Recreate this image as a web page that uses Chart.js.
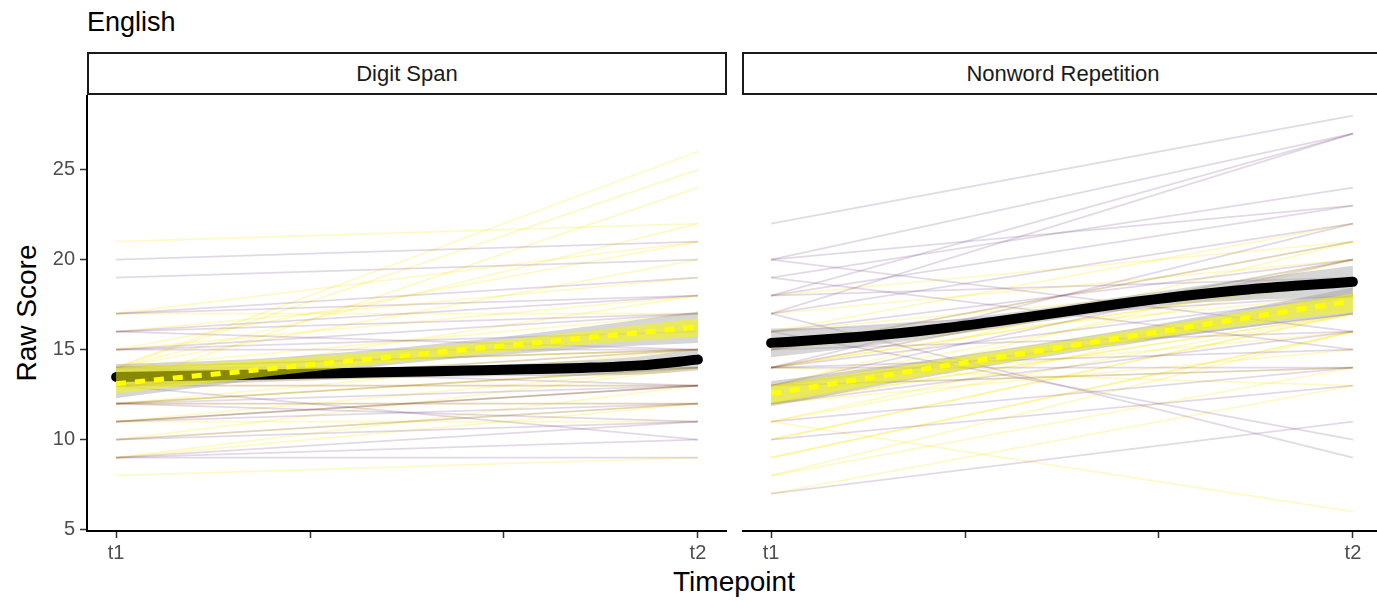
<!DOCTYPE html>
<html><head><meta charset="utf-8">
<script src="https://cdn.jsdelivr.net/npm/chart.js@4.4.1/dist/chart.umd.min.js"></script>
<style>
html,body{margin:0;padding:0;background:#fff;overflow:hidden;width:1377px;height:600px;}
body{position:relative;font-family:"Liberation Sans",Arial,sans-serif;}
.txt{position:absolute;white-space:nowrap;color:#000;}
#title{left:87px;top:8.9px;font-size:27px;line-height:27px;}
.strip{position:absolute;top:52px;height:43px;box-sizing:border-box;border:2px solid #1a1a1a;display:flex;align-items:center;justify-content:center;font-size:22px;line-height:22px;color:#1a1a1a;background:#fff;white-space:nowrap;}
#ytitle{left:-123px;top:298.6px;width:300px;height:28px;font-size:28px;line-height:28px;text-align:center;transform:rotate(-90deg);}
#xtitle{left:434px;top:568.3px;width:600px;font-size:28px;line-height:28px;text-align:center;}
.cv{position:absolute;top:95px;}
</style></head>
<body>
<div id="title" class="txt">English</div>
<div class="strip" style="left:87px;width:640px;">Digit Span</div>
<div class="strip" style="left:742px;width:642px;">Nonword Repetition</div>
<div id="ytitle" class="txt">Raw Score</div>
<div id="xtitle" class="txt">Timepoint</div>
<canvas id="c1" class="cv" width="727" height="505" style="left:0px;"></canvas>
<canvas id="c2" class="cv" width="640" height="505" style="left:742px;"></canvas>
<script>
// ---- axis ticks ----
const xTickVals = [0, 1/3, 2/3, 1];
const xTickLabels = ['t1', '', '', 't2'];
const yTickVals = [5, 10, 15, 20, 25];

// ---- Digit Span: individual trajectories ----
const dsPurpleT1 = [20,19,17,17,16,16,16,15,15,15,14,14,13,13,12,11,11,12,12,10,10,13,9,9,9,14,13,12,11];
const dsPurpleT2 = [21,20,18,19,18,17,15,17,16,15,15,14,15,14,13,13,13,12,11,12,11,10,11,10,9,13,13,14,12];
const dsYellowT1 = [21,14,14,13,14,15,17,16,14,15,13,14,17,13,12,14,12,11,13,12,10,9,11,10,8,13,12,11,9,14];
const dsYellowT2 = [22,26,25,24,22,21,21,19,20,18,18,17,17,15,14,15,15,14,14,14,14,13,13,12,9,13,12,11,12,15];

// ---- Nonword Repetition: individual trajectories ----
const nwPurpleT1 = [22,20,18,17,19,20,18,17,14,15,13,16,15,20,17,16,7,14,13,15,14,19,14,13,11,10,12,16,18,14];
const nwPurpleT2 = [28,27,27,27,24,23,23,22,22,21,20,20,19,16,9,10,11,18,17,16,15,15,14,14,14,13,16,18,19,20];
const nwYellowT1 = [7,8,9,10,11,12,13,12,14,11,9,8,10,13,15,16,17,12,14,12,14,18,13,15,12,13,14,16,13,11];
const nwYellowT2 = [13,16,16,17,6,20,21,18,19,17,16,14,17,18,21,22,20,17,19,15,13,21,19,18,17,14,20,19,16,18];

// ---- smoothed group trends (read at x = 0, 0.1, ... 1) ----
const smoothX = [0,0.1,0.2,0.3,0.4,0.5,0.6,0.7,0.8,0.9,1];
const dsBlack   = [13.48,13.53,13.58,13.64,13.70,13.76,13.83,13.90,13.98,14.12,14.44];
const dsBlackLo = [12.98,13.10,13.22,13.32,13.40,13.46,13.50,13.53,13.55,13.62,13.84];
const dsBlackHi = [13.98,13.94,13.92,13.92,13.94,14.00,14.10,14.23,14.39,14.62,15.04];
const dsYellow   = [13.10,13.42,13.73,14.05,14.36,14.68,15.00,15.31,15.63,15.94,16.26];
const dsYellowLo = [12.56,12.93,13.30,13.66,14.01,14.35,14.67,14.97,15.25,15.50,15.72];
const dsYellowHi = [14.00,14.15,14.32,14.52,14.75,15.02,15.32,15.64,16.00,16.36,16.74];
const dsYGreyLo  = [12.30,12.72,13.13,13.53,13.90,14.24,14.54,14.79,15.03,15.22,15.36];
const dsYGreyHi  = [14.20,14.30,14.42,14.62,14.86,15.14,15.47,15.84,16.24,16.67,17.11];

const nwBlack   = [15.37,15.58,15.85,16.20,16.62,17.08,17.54,17.95,18.28,18.54,18.76];
const nwBlackLo = [14.57,14.93,15.33,15.77,16.24,16.71,17.16,17.52,17.73,17.84,17.86];
const nwBlackHi = [16.17,16.23,16.37,16.63,17.00,17.45,17.92,18.38,18.83,19.24,19.66];
const nwYellow   = [12.56,13.07,13.59,14.10,14.62,15.13,15.64,16.16,16.67,17.19,17.70];
const nwYellowLo = [12.02,12.60,13.18,13.74,14.30,14.83,15.34,15.83,16.29,16.74,17.10];
const nwYellowHi = [13.00,13.47,13.95,14.43,14.93,15.43,15.94,16.48,17.02,17.58,18.12];
const nwYGreyLo  = [11.85,12.45,13.07,13.65,14.22,14.74,15.24,15.71,16.15,16.57,16.95];
const nwYGreyHi  = [13.25,13.66,14.10,14.55,15.02,15.52,16.04,16.61,17.19,17.81,18.45];

const PURPLE = 'rgba(68,1,84,0.15)';
const YELLOW = 'rgba(253,231,37,0.25)';
const GREY = 'rgba(153,153,153,0.4)';
const YRIB = 'rgba(250,250,0,0.55)';

function seg(t1, t2, color) {
  return t1.map((v, i) => ({
    data: [{x: 0, y: v}, {x: 1, y: t2[i]}],
    borderColor: color, borderWidth: 1.8, pointRadius: 0, fill: false, order: 100
  }));
}
function curve(vals, extra) {
  return Object.assign({
    data: smoothX.map((x, i) => ({x: x, y: vals[i]})),
    pointRadius: 0, borderWidth: 0, fill: false, cubicInterpolationMode: 'monotone'
  }, extra);
}
function build(canvasId, showY, pT1, pT2, yT1, yT2, blk, blkLo, blkHi, yel, yelLo, yelHi, ygLo, ygHi) {
  const datasets = [];
  datasets.push(...seg(pT1, pT2, PURPLE));
  datasets.push(...seg(yT1, yT2, YELLOW));
  datasets.push(curve(ygHi, {fill: '+1', backgroundColor: GREY, order: 50}));
  datasets.push(curve(ygLo, {order: 50}));
  datasets.push(curve(blkHi, {fill: '+1', backgroundColor: GREY, order: 50}));
  datasets.push(curve(blkLo, {order: 50}));
  datasets.push(curve(blk, {borderColor: '#000', borderWidth: 10, borderCapStyle: 'round', order: 40}));
  datasets.push(curve(yelHi, {fill: '+1', backgroundColor: YRIB, order: 30}));
  datasets.push(curve(yelLo, {order: 30}));
  datasets.push(curve(yel, {borderColor: '#FFFF00', borderWidth: 5, borderDash: [10, 9], order: 20}));

  const tickFont = {family: '"Liberation Sans", Arial, sans-serif', size: 20};
  const gridOpt = {display: true, drawOnChartArea: false, drawTicks: true, tickLength: 7, tickColor: '#333333', tickWidth: 1.5};
  new Chart(document.getElementById(canvasId), {
    type: 'line',
    data: {datasets: datasets},
    options: {
      responsive: false, animation: false, devicePixelRatio: 1,
      layout: {padding: 0},
      plugins: {legend: {display: false}, tooltip: {enabled: false}},
      scales: {
        x: {
          type: 'linear', min: -0.05, max: 1.05,
          afterBuildTicks: s => { s.ticks = xTickVals.map(v => ({value: v})); },
          ticks: {autoSkip: false, maxRotation: 0, color: '#4D4D4D', font: tickFont, padding: 3,
                  callback: (v, i) => xTickLabels[i]},
          grid: gridOpt,
          border: {display: true, color: '#000', width: 2},
          afterFit: s => { s.height = 69; s.paddingLeft = 0; s.paddingRight = 0; }
        },
        y: {
          display: showY,
          type: 'linear', min: 4.92, max: 29.14,
          afterBuildTicks: s => { s.ticks = yTickVals.map(v => ({value: v})); },
          ticks: {color: '#4D4D4D', font: tickFont, padding: 5},
          grid: gridOpt,
          border: {display: true, color: '#000', width: 2},
          afterFit: s => { s.width = showY ? 87 : 0; s.paddingTop = 0; s.paddingBottom = 0; }
        }
      }
    }
  });
}
build('c1', true, dsPurpleT1, dsPurpleT2, dsYellowT1, dsYellowT2,
      dsBlack, dsBlackLo, dsBlackHi, dsYellow, dsYellowLo, dsYellowHi, dsYGreyLo, dsYGreyHi);
build('c2', false, nwPurpleT1, nwPurpleT2, nwYellowT1, nwYellowT2,
      nwBlack, nwBlackLo, nwBlackHi, nwYellow, nwYellowLo, nwYellowHi, nwYGreyLo, nwYGreyHi);
</script>
</body></html>
